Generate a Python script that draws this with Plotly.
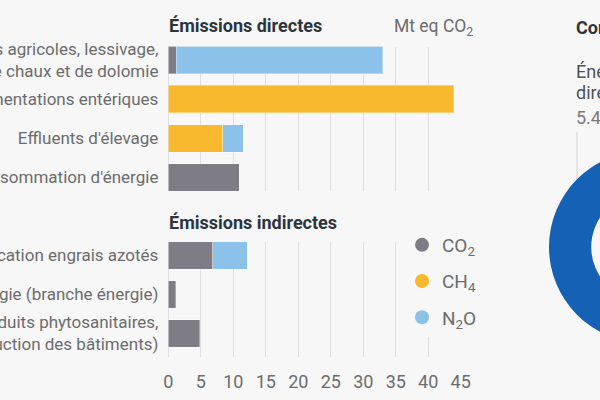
import plotly.graph_objects as go

# ---------------- data ----------------
cats_direct = [
    "Sols agricoles, lessivage,<br>épandage de chaux et de dolomie",
    "Fermentations entériques",
    "Effluents d'élevage",
    "Consommation d'énergie",
]
co2_direct = [1.2, None, None, 10.9]
ch4_direct = [None, 43.9, 8.4, None]
n2o_direct = [31.8, None, 3.1, None]

cats_indirect = [
    "Fabrication engrais azotés",
    "Production d'énergie (branche énergie)",
    "Autres (produits phytosanitaires,<br>construction des bâtiments)",
]
co2_indirect = [6.8, 1.1, 4.8]
ch4_indirect = [None, None, None]
n2o_indirect = [5.3, None, None]

gas_names = ["CO<sub>2</sub>", "CH<sub>4</sub>", "N<sub>2</sub>O"]
x_ticks = [0, 5, 10, 15, 20, 25, 30, 35, 40, 45]

donut_labels = ["Énergie directe"]
donut_values = [5.4]

# ---------------- style ----------------
W, H = 760, 400
BG = "#f7f7f7"
GAS_COLORS = ["#7e7d86", "#f8b92f", "#8cc2ea"]
BLUE = "#1461b6"
TITLE_C = "#2c343c"
LABEL_C = "#6c6c6c"
GRID_C = "#dedfe0"
FONT = "Roboto"

def px_x(p):
    return p / W

def px_y(p):
    return 1 - p / H

fig = go.Figure()

direct_vals = [co2_direct, ch4_direct, n2o_direct]
indirect_vals = [co2_indirect, ch4_indirect, n2o_indirect]

for i in range(3):
    fig.add_trace(go.Bar(
        y=cats_direct, x=direct_vals[i], orientation="h",
        marker=dict(color=GAS_COLORS[i], line=dict(color="rgba(255,255,255,0.35)", width=1)),
        xaxis="x", yaxis="y", showlegend=False, hoverinfo="skip",
    ))
    fig.add_trace(go.Bar(
        y=cats_indirect, x=indirect_vals[i], orientation="h",
        marker=dict(color=GAS_COLORS[i], line=dict(color="rgba(255,255,255,0.35)", width=1)),
        xaxis="x2", yaxis="y2", showlegend=False, hoverinfo="skip",
    ))

# legend entries
for i in range(3):
    fig.add_trace(go.Scatter(
        x=[None], y=[None], mode="markers", name=gas_names[i],
        marker=dict(color=GAS_COLORS[i], size=14, symbol="circle"),
        xaxis="x2", yaxis="y2", legendgroup=f"g{i}", showlegend=True,
    ))

fig.add_trace(go.Pie(
    labels=donut_labels, values=donut_values, hole=0.56,
    marker=dict(colors=[BLUE], line=dict(width=0)),
    textinfo="none", hoverinfo="skip", showlegend=False, sort=False,
    domain=dict(x=[px_x(549), px_x(741)], y=[px_y(343), px_y(151)]),
))

x_dom = [px_x(168.4), px_x(460.7)]
axis_common = dict(
    range=[0, 45], tickvals=x_ticks, showgrid=True, gridcolor=GRID_C, gridwidth=1,
    zeroline=True, zerolinecolor=GRID_C, zerolinewidth=1, showline=False, ticks="",
    fixedrange=True, automargin=False,
)

fig.update_layout(
    width=W, height=H,
    margin=dict(l=0, r=0, t=0, b=0, autoexpand=False),
    paper_bgcolor=BG, plot_bgcolor=BG,
    barmode="stack", bargap=0.295,
    font=dict(family=FONT, color=LABEL_C),
    xaxis=dict(domain=x_dom, anchor="y", showticklabels=False, **axis_common),
    xaxis2=dict(domain=x_dom, anchor="y2", showticklabels=True,
                tickfont=dict(size=18, color=LABEL_C), ticklabelstandoff=12, **axis_common),
    yaxis=dict(domain=[px_y(191), px_y(46.5)], anchor="x", type="category",
               categoryorder="array", categoryarray=cats_direct, automargin=False,
               range=[3.35, -0.35], showgrid=False, zeroline=False, ticks="",
               tickfont=dict(size=17, color=LABEL_C), ticklabelstandoff=9, fixedrange=True),
    yaxis2=dict(domain=[px_y(356.7), px_y(241.7)], anchor="x2", type="category",
                categoryorder="array", categoryarray=cats_indirect, automargin=False,
                range=[2.595, -0.354], showgrid=False, zeroline=False, ticks="",
                tickfont=dict(size=17, color=LABEL_C), ticklabelstandoff=9, fixedrange=True),
    legend=dict(
        x=px_x(402), y=px_y(226), xanchor="left", yanchor="top",
        bgcolor=BG, font=dict(size=19, color=LABEL_C),
        tracegroupgap=8.5, traceorder="grouped", itemclick=False, itemdoubleclick=False,
    ),
    showlegend=True,
)

annos = [
    dict(text="<b>Émissions directes</b>", x=px_x(167), y=px_y(25), size=18, color=TITLE_C),
    dict(text="<b>Émissions indirectes</b>", x=px_x(167), y=px_y(222), size=18, color=TITLE_C),
    dict(text="Mt eq CO<sub>2</sub>", x=px_x(392), y=px_y(27), size=17.5, color=LABEL_C),
    dict(text="<b>Consommation d'énergie</b>", x=px_x(574), y=px_y(27), size=18, color=TITLE_C),
    dict(text="Énergie", x=px_x(574), y=px_y(72), size=18, color="#4f5358"),
    dict(text="directe", x=px_x(574), y=px_y(92), size=18, color="#4f5358"),
    dict(text="5.4 Mtep", x=px_x(574), y=px_y(117), size=18, color="#7a7a7a"),
]
for a in annos:
    fig.add_annotation(
        text=a["text"], x=a["x"], y=a["y"], xref="paper", yref="paper",
        xanchor="left", yanchor="middle", showarrow=False,
        font=dict(family=FONT, size=a["size"], color=a["color"]),
    )

fig.add_shape(type="line", xref="paper", yref="paper",
              x0=px_x(577), x1=px_x(577), y0=px_y(132), y1=px_y(179),
              line=dict(color="#d3d3d3", width=1))

fig.write_html(
    "out.html",
    config={"displayModeBar": False},
    post_script="document.body.style.margin='0';document.body.style.background='%s';" % BG,
)
